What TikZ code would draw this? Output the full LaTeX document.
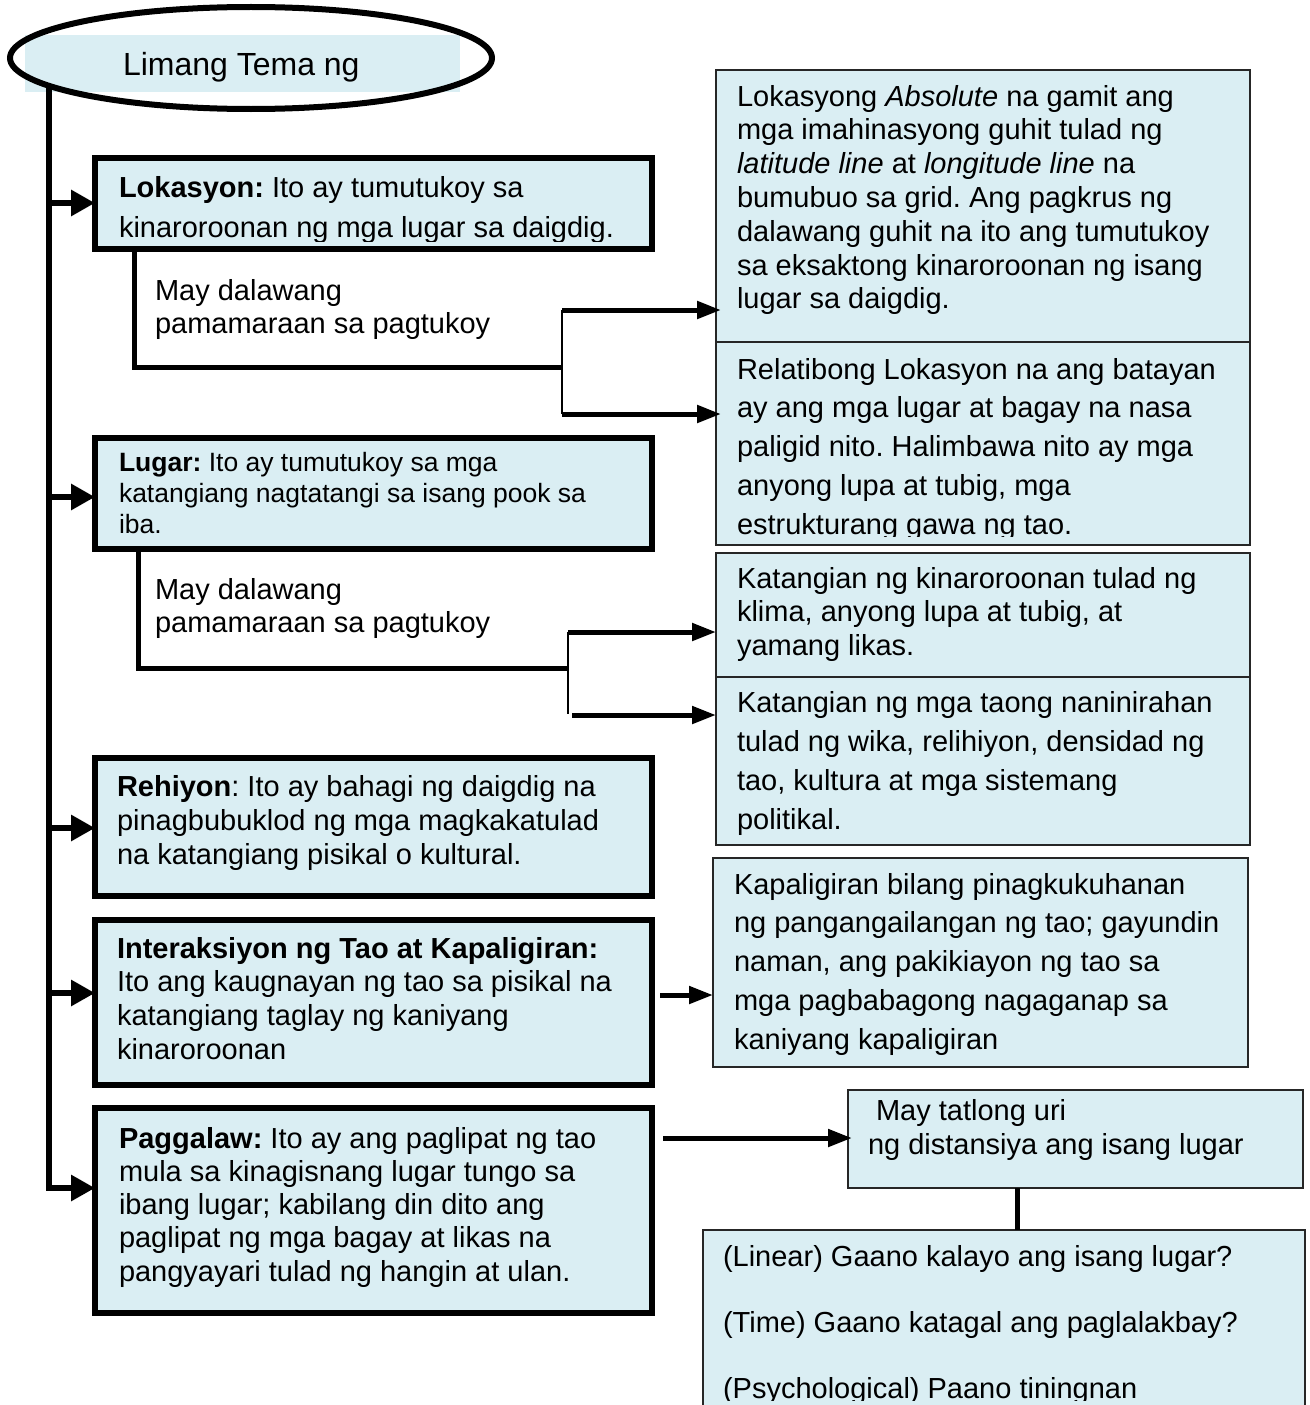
\documentclass[tikz,border=0pt]{standalone}
\usepackage{fontspec}
\setmainfont{Liberation Sans}
\frenchspacing
\usetikzlibrary{arrows.meta,shapes.geometric}
\definecolor{boxfill}{HTML}{DAEEF3}
\tikzset{
  lbox/.style={draw=black, line width=6pt, fill=boxfill, rectangle, inner sep=0pt, outer sep=0pt, anchor=north west},
  rbox/.style={draw=black!85, line width=2pt, fill=boxfill, rectangle, inner sep=0pt, outer sep=0pt, anchor=north west},
  txt/.style={inner sep=0pt, outer sep=0pt, anchor=base west, font=\fontsize{29}{34}\selectfont\frenchspacing},
  trunkline/.style={line width=6pt, line join=miter},
  trunkarrow/.style={line width=6pt, line join=miter, -{Triangle[length=24pt,width=25pt]}},
  brk/.style={line width=5pt, line join=miter},
  brkthin/.style={line width=2pt},
  sarrow/.style={line width=5pt, -{Triangle[length=24pt,width=17pt]}},
}
\newcommand\txtlines[6][]{%
  \foreach \tl [count=\i from 0] in {#6}{%
    \node[txt,#1] (#2-\i) at (#3,{#4+#5*\i}) {\tl};}}
\begin{document}
\begin{tikzpicture}[x=1pt,y=-1pt]
\useasboundingbox (0,0) rectangle (1309,1405);

% title
\fill[boxfill] (25,35) rectangle (460,92);
\node[draw, ellipse, line width=6pt, minimum width=482pt, minimum height=102pt, inner sep=0pt] (ell) at (251,58) {};
\node[txt, font=\fontsize{32}{38}\selectfont] (title) at (123,76) {Limang Tema ng};

% left boxes
\node[lbox, minimum width=557pt, minimum height=91pt] (lok) at (95,158) {};
\node[lbox, minimum width=557pt, minimum height=111pt] (lug) at (95,438) {};
\node[lbox, minimum width=557pt, minimum height=138pt] (reh) at (95,758) {};
\node[lbox, minimum width=557pt, minimum height=165pt] (int) at (95,920) {};
\node[lbox, minimum width=557pt, minimum height=205pt] (pag) at (95,1108) {};

% right boxes
\node[rbox, minimum width=534pt, minimum height=272pt] (abs) at (716,70) {};
\node[rbox, minimum width=534pt, minimum height=203pt] (rel) at (716,342) {};
\node[rbox, minimum width=534pt, minimum height=124pt] (kat1) at (716,553) {};
\node[rbox, minimum width=534pt, minimum height=168pt] (kat2) at (716,677) {};
\node[rbox, minimum width=535pt, minimum height=209pt] (kap) at (713,858) {};
\node[rbox, minimum width=455pt, minimum height=98pt] (may3) at (848,1090) {};
\node[rbox, minimum width=602pt, minimum height=190pt] (bot) at (703,1230) {};

% trunk
\coordinate (trunktop) at (49,86);
\coordinate (tb) at (49,1188);
\draw[trunkarrow] (trunktop) -- (tb) -- (tb -| pag.west);
\coordinate (a1) at (49,203);
\coordinate (a2) at (49,497);
\coordinate (a3) at (49,828);
\coordinate (a4) at (49,993);
\draw[trunkarrow] (a1) -- (a1 -| lok.west);
\draw[trunkarrow] (a2) -- (a2 -| lug.west);
\draw[trunkarrow] (a3) -- (a3 -| reh.west);
\draw[trunkarrow] (a4) -- (a4 -| int.west);

% bracket 1
\coordinate (b1top) at (134,249);
\coordinate (b1c) at (562,367);
\coordinate (b1u) at (562,310);
\coordinate (b1d) at (562,414);
\draw[brk] (b1top) |- (b1c);
\draw[brkthin] (b1u) -- (b1d);
\draw[sarrow] (b1u) -- ([xshift=5pt]b1u -| abs.west);
\draw[sarrow] (b1d) -- ([xshift=5pt]b1d -| rel.west);

% bracket 2
\coordinate (b2top) at (138,549);
\coordinate (b2c) at (568,668);
\coordinate (b2u) at (568,632);
\coordinate (b2d) at (568,714);
\coordinate (b2ds) at (572,715);
\draw[brk] (b2top) |- (b2c);
\draw[brkthin] (b2u) -- (b2d);
\draw[sarrow] (b2u) -- (b2u -| kat1.west);
\draw[sarrow] (b2ds) -- (b2ds -| kat2.west);

% other connectors
\coordinate (ia) at (660,995);
\draw[sarrow] (ia) -- (ia -| kap.west);
\coordinate (pa) at (663,1138);
\draw[sarrow] (pa) -- ([xshift=4pt]pa -| may3.west);
\coordinate (c1) at (1017,1188);
\draw[brk] (c1) -- (c1 |- bot.north);

% texts
\begin{scope}
\clip (95,158) rectangle (652,241);
\txtlines{lokt}{119}{197}{40}{{\textbf{Lokasyon:} Ito ay tumutukoy sa},{kinaroroonan ng mga lugar sa daigdig.}}
\end{scope}
\txtlines{may1}{155}{300}{33}{{May dalawang},{pamamaraan sa pagtukoy}}
\txtlines{abst}{737}{106}{33.8}{{Lokasyong \textit{Absolute} na gamit ang},{mga imahinasyong guhit tulad ng},{\textit{latitude line} at \textit{longitude line} na},{bumubuo sa grid. Ang pagkrus ng},{dalawang guhit na ito ang tumutukoy},{sa eksaktong kinaroroonan ng isang},{lugar sa daigdig.}}
\begin{scope}
\clip (716,342) rectangle (1250,536);
\txtlines{relt}{737}{379}{38.8}{{Relatibong Lokasyon na ang batayan},{ay ang mga lugar at bagay na nasa},{paligid nito. Halimbawa nito ay mga},{anyong lupa at tubig, mga},{estrukturang gawa ng tao.}}
\end{scope}
\txtlines[font=\fontsize{26.5}{31}\selectfont\frenchspacing]{lugt}{119}{471}{31}{{\textbf{Lugar:} Ito ay tumutukoy sa mga},{katangiang nagtatangi sa isang pook sa},{iba.}}
\txtlines{may2}{155}{599}{33}{{May dalawang},{pamamaraan sa pagtukoy}}
\txtlines{kat1t}{737}{588}{33.5}{{Katangian ng kinaroroonan tulad ng},{klima, anyong lupa at tubig, at},{yamang likas.}}
\txtlines{kat2t}{737}{712}{39}{{Katangian ng mga taong naninirahan},{tulad ng wika, relihiyon, densidad ng},{tao, kultura at mga sistemang},{politikal.}}
\txtlines{reht}{117}{796}{34}{{\textbf{Rehiyon}: Ito ay bahagi ng daigdig na},{pinagbubuklod ng mga magkakatulad},{na katangiang pisikal o kultural.}}
\txtlines{kapt}{734}{894}{38.8}{{Kapaligiran bilang pinagkukuhanan},{ng pangangailangan ng tao; gayundin},{naman, ang pakikiayon ng tao sa},{mga pagbabagong nagaganap sa},{kaniyang kapaligiran}}
\txtlines{intt}{117}{958}{33.7}{{\textbf{Interaksiyon ng Tao at Kapaligiran:}},{Ito ang kaugnayan ng tao sa pisikal na},{katangiang taglay ng kaniyang},{kinaroroonan}}
\node[txt] (may3a) at (876,1120) {May tatlong uri};
\node[txt] (may3b) at (868,1154) {ng distansiya ang isang lugar};
\txtlines{pagt}{119}{1148}{33.3}{{\textbf{Paggalaw:} Ito ay ang paglipat ng tao},{mula sa kinagisnang lugar tungo sa},{ibang lugar; kabilang din dito ang},{paglipat ng mga bagay at likas na},{pangyayari tulad ng hangin at ulan.}}
\begin{scope}
\clip (703,1230) rectangle (1305,1400);
\txtlines{bott}{723}{1266}{66}{{(Linear) Gaano kalayo ang isang lugar?},{(Time) Gaano katagal ang paglalakbay?},{(Psychological) Paano tiningnan}}
\end{scope}
\end{tikzpicture}
\end{document}
